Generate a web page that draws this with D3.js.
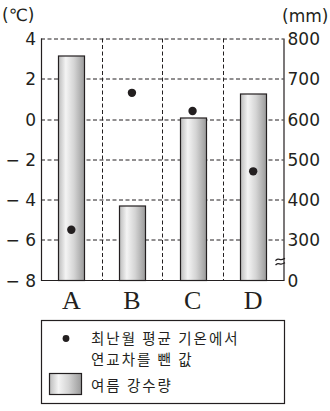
<!DOCTYPE html>
<html>
<head>
<meta charset="utf-8">
<script src="https://cdn.jsdelivr.net/npm/d3@7"></script>
<style>
  body { margin: 0; background: #fff; }
  .tick-lbl { font-family: "DejaVu Sans", sans-serif; font-size: 17px; fill: #231f20; }
  .unit-lbl { font-family: "DejaVu Sans", sans-serif; font-size: 17px; fill: #231f20; }
  .cat-lbl { font-family: "Liberation Serif", serif; font-size: 26px; fill: #231f20; }
  .legend-lbl { font-family: "Noto Sans CJK KR", sans-serif; font-size: 14.5px; letter-spacing: 2px; fill: #231f20; }
</style>
</head>
<body>
<div id="chart"></div>
<script>
// chart values
const categories = ["A", "B", "C", "D"];
const summerPrecip = [757, 384, 604, 664];          // mm, right axis
const tempMinusRange = [-5.5, 1.3, 0.4, -2.6];      // ℃, left axis
const tempTicks = [4, 2, 0, -2, -4, -6, -8];
const precipTicks = [0, 300, 400, 500, 600, 700, 800];
const legendDotLines = ["최난월 평균 기온에서", "연교차를 뺀 값"];
const legendBarLabel = "여름 강수량";

class ClimateChart {
  constructor(_config, data) {
    this.config = {
      parentElement: _config.parentElement,
      containerWidth: 330,
      containerHeight: 411,
      margin: { top: 38.5, right: 46.5, bottom: 131, left: 41 },
      barWidth: 26,
    };
    this.data = data;
    this.initVis();
  }

  initVis() {
    let vis = this;

    vis.width = vis.config.containerWidth - vis.config.margin.left - vis.config.margin.right;
    vis.height = vis.config.containerHeight - vis.config.margin.top - vis.config.margin.bottom;

    vis.svg = d3
      .select(vis.config.parentElement)
      .append("svg")
      .attr("width", vis.config.containerWidth)
      .attr("height", vis.config.containerHeight);

    // cylinder-like shading for the bars
    const grad = vis.svg
      .append("defs")
      .append("linearGradient")
      .attr("id", "barGrad")
      .attr("x1", "0%").attr("x2", "100%")
      .attr("y1", "0%").attr("y2", "0%");
    [["0%", "#bcbcbc"], ["28%", "#f4f4f4"], ["60%", "#d4d4d4"], ["100%", "#9a9a9a"]].forEach(([o, c]) =>
      grad.append("stop").attr("offset", o).attr("stop-color", c)
    );

    vis.chart = vis.svg
      .append("g")
      .attr("transform", `translate(${vis.config.margin.left},${vis.config.margin.top})`);

    vis.colScale = d3.scaleBand().range([0, vis.width]);
    vis.xScale = d3.scaleBand().range([0, vis.width]);
    vis.yTemp = d3.scaleLinear().range([vis.height, 0]);
    vis.yPrecip = d3.scaleLinear();

    vis.gridG = vis.chart.append("g").attr("class", "grid");
    vis.barG = vis.chart.append("g").attr("class", "bars");
    vis.dotG = vis.chart.append("g").attr("class", "dots");
    vis.yTempAxisG = vis.chart.append("g").attr("class", "y-temp-axis");
    vis.yPrecipAxisG = vis.chart
      .append("g")
      .attr("class", "y-precip-axis")
      .attr("transform", `translate(${vis.width},0)`);
    vis.xAxisG = vis.chart
      .append("g")
      .attr("class", "x-axis")
      .attr("transform", `translate(0,${vis.height})`);

    // unit labels
    vis.svg.append("text").attr("class", "unit-lbl").attr("x", 2).attr("y", 21).text("(℃)");
    vis.svg.append("text").attr("class", "unit-lbl").attr("x", 282).attr("y", 22).text("(mm)");
  }

  updateVis() {
    let vis = this;

    vis.colScale.domain(categories);
    const pad = 1 - vis.config.barWidth / (vis.width / categories.length);
    vis.xScale.domain(categories).paddingInner(pad).paddingOuter(pad / 2);
    vis.yTemp.domain([-8, 4]);
    // broken axis: 0 at the bottom, 300..800 share the temperature grid
    vis.yPrecip
      .domain([0, 300, 800])
      .range([vis.yTemp(-8), vis.yTemp(-6), vis.yTemp(4)]);

    vis.renderVis();
  }

  renderVis() {
    let vis = this;

    // dashed grid
    vis.gridG
      .selectAll(".h-grid")
      .data(tempTicks.filter((d) => d > -8))
      .join("line")
      .attr("class", "h-grid")
      .attr("x1", 0)
      .attr("x2", vis.width)
      .attr("y1", (d) => Math.round(vis.yTemp(d)) + 0.5)
      .attr("y2", (d) => Math.round(vis.yTemp(d)) + 0.5)
      .attr("stroke", "#231f20")
      .attr("stroke-dasharray", "4,2.5");

    vis.gridG
      .selectAll(".v-grid")
      .data(categories.slice(1))
      .join("line")
      .attr("class", "v-grid")
      .attr("x1", (d) => Math.round(vis.colScale(d)) + 0.5)
      .attr("x2", (d) => Math.round(vis.colScale(d)) + 0.5)
      .attr("y1", 0)
      .attr("y2", vis.height)
      .attr("stroke", "#231f20")
      .attr("stroke-dasharray", "4,2.5");

    // summer precipitation bars
    vis.barG
      .selectAll(".bar")
      .data(vis.data)
      .join("rect")
      .attr("class", "bar")
      .attr("x", (d) => Math.round(vis.xScale(d.cat)) + 0.5)
      .attr("y", (d) => Math.round(vis.yPrecip(d.precip)) + 0.5)
      .attr("width", vis.xScale.bandwidth())
      .attr("height", (d) => vis.height - Math.round(vis.yPrecip(d.precip)))
      .attr("fill", "url(#barGrad)")
      .attr("stroke", "#231f20")
      .attr("stroke-width", 1.2);

    // temperature dots
    vis.dotG
      .selectAll(".dot")
      .data(vis.data)
      .join("circle")
      .attr("class", "dot")
      .attr("cx", (d) => vis.xScale(d.cat) + vis.xScale.bandwidth() / 2)
      .attr("cy", (d) => vis.yTemp(d.temp))
      .attr("r", 4.2)
      .attr("fill", "#231f20");

    // axes
    const tempAxis = d3
      .axisLeft(vis.yTemp)
      .tickValues(tempTicks)
      .tickSize(0)
      .tickPadding(5)
      .tickFormat((d) => (d < 0 ? `− ${Math.abs(d)}` : `${d}`));
    const precipAxis = d3
      .axisRight(vis.yPrecip)
      .tickValues(precipTicks)
      .tickSize(0)
      .tickPadding(4);
    const catAxis = d3.axisBottom(vis.colScale).tickSize(0).tickPadding(6);

    vis.yTempAxisG.call(tempAxis);
    vis.yPrecipAxisG.call(precipAxis);
    vis.xAxisG.call(catAxis);

    [vis.yTempAxisG, vis.yPrecipAxisG, vis.xAxisG].forEach((g) => {
      g.select(".domain").remove();
      g.selectAll("text").attr("class", "tick-lbl").attr("fill", null).style("font", null);
    });
    vis.yTempAxisG.selectAll("text").attr("dy", "0.36em");
    vis.yPrecipAxisG.selectAll("text").attr("dy", "0.36em");
    vis.xAxisG.selectAll("text").attr("class", "cat-lbl").attr("dy", "0.9em");

    // solid frame: left, right, bottom
    vis.chart
      .append("path")
      .attr("d", `M0.5,0 V${vis.height + 0.5} H${vis.width + 0.5} V0`)
      .attr("fill", "none")
      .attr("stroke", "#231f20")
      .attr("stroke-width", 1.2);

    // axis break mark on the right axis
    const breakY = (vis.yPrecip(0) + vis.yPrecip(300)) / 2 + 2;
    const wave = d3.line().curve(d3.curveBasis);
    [-2.2, 2.2].forEach((off) => {
      vis.chart
        .append("path")
        .attr("d", wave([[-8, off + 1], [-5.5, off - 1.2], [-2.5, off + 0.6], [1.5, off - 1.4]]))
        .attr("transform", `translate(${vis.width},${breakY})`)
        .attr("fill", "none")
        .attr("stroke", "#231f20")
        .attr("stroke-width", 1.3);
    });

    vis.renderLegend();
  }

  renderLegend() {
    let vis = this;
    const lg = vis.svg.append("g").attr("class", "legend");

    lg.append("rect")
      .attr("x", 41.5).attr("y", 320.5)
      .attr("width", 243).attr("height", 83)
      .attr("fill", "#fff")
      .attr("stroke", "#231f20")
      .attr("stroke-width", 1.2);

    lg.append("circle").attr("cx", 66).attr("cy", 338.5).attr("r", 3.4).attr("fill", "#231f20");

    lg.selectAll(".dot-lbl")
      .data(legendDotLines)
      .join("text")
      .attr("class", "legend-lbl dot-lbl")
      .attr("x", 91)
      .attr("y", (d, i) => 343.5 + i * 21)
      .text((d) => d);

    lg.append("rect")
      .attr("x", 49.5).attr("y", 373.5)
      .attr("width", 32).attr("height", 21)
      .attr("fill", "url(#barGrad)")
      .attr("stroke", "#231f20")
      .attr("stroke-width", 1.2);

    lg.append("text")
      .attr("class", "legend-lbl")
      .attr("x", 91)
      .attr("y", 390.5)
      .text(legendBarLabel);
  }
}

const data = categories.map((c, i) => ({ cat: c, precip: summerPrecip[i], temp: tempMinusRange[i] }));
const chart = new ClimateChart({ parentElement: "#chart" }, data);
chart.updateVis();
</script>
</body>
</html>
